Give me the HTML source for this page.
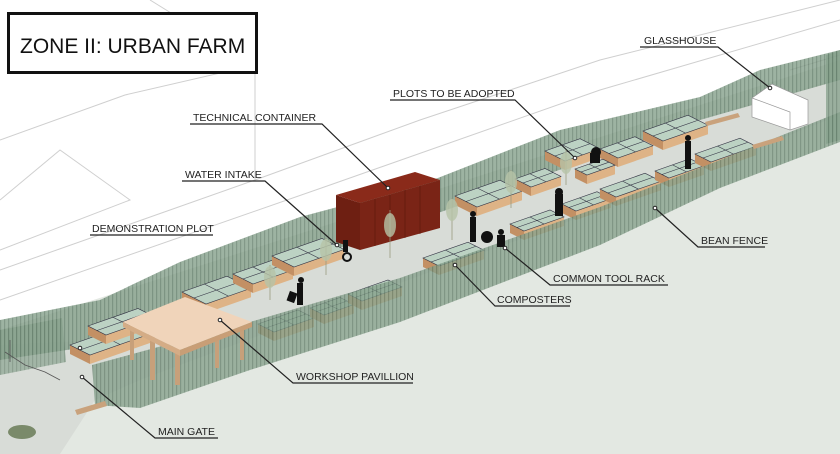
<!DOCTYPE html>
<html><head><meta charset="utf-8"><style>
html,body{margin:0;padding:0;background:#fff;width:840px;height:454px;overflow:hidden}
svg{display:block}
text{font-family:"Liberation Sans",sans-serif;font-size:10.5px;fill:#222}
</style></head><body>
<svg id="s" width="840" height="454" viewBox="0 0 840 454" xmlns="http://www.w3.org/2000/svg">
<defs>
<pattern id="fp" width="4" height="30" patternUnits="userSpaceOnUse">
<rect width="4" height="30" fill="#85a08b"/>
<rect width="1.2" height="30" fill="#647f6b"/>
</pattern>
</defs>
<!-- building outlines -->
<g stroke="#cfcfcf" stroke-width="1" fill="none">
<polyline points="0,140 125,95 255,65 255,180 0,270"/>
<polyline points="0,200 60,150 130,200 0,250"/>
<polyline points="150,0 255,65"/>
<polyline points="0,300 330,185 600,90 840,20"/>
<polyline points="255,180 420,120 600,60 840,0"/>
<polyline points="790,70 840,55"/>
</g>
<!-- ground -->
<polygon points="0,330 840,60 840,454 0,454" fill="#e3e8e2"/>
<!-- gravel strip -->
<polygon points="0,345 100,340 300,258 700,118 840,78 840,115 600,210 400,283 140,380 95,400 60,454 0,454" fill="#d8dcd7"/>
<!-- top fence -->
<polygon points="0,320 50,310 100,300 180,262 300,217 420,185 560,130 700,97 760,70 840,50 840,80 700,120 300,262 100,345 0,360" fill="url(#fp)" opacity="0.8"/>
<!-- right end fence -->
<polygon points="826,55 840,50 840,140 826,144" fill="url(#fp)" opacity="0.75"/>
<!-- left gate fence -->
<polygon points="0,330 62,318 66,362 0,375" fill="url(#fp)" opacity="0.65"/>
<g stroke="#555" stroke-width="0.8" fill="none"><polyline points="5,352 25,365 45,372 60,380"/><polyline points="10,340 10,362 M25,345 25,367 M40,350 40,373"/></g>
<g id="beds"></g>
<!-- bottom fence -->
<polygon points="92,365 250,322 400,278 600,207 720,160 840,112 840,142 720,188 600,245 400,322 250,370 140,408 95,405" fill="url(#fp)" opacity="0.78"/>
<!-- container -->
<polygon points="336,195 415,172 440,180 360,203" fill="#8a2a1a"/>
<polygon points="336,195 360,203 360,250 336,242" fill="#6e1f12"/>
<polygon points="360,203 440,180 440,228 360,250" fill="#7a2416"/>
<g stroke="#5a180d" stroke-width="0.6">
<line x1="375" y1="199" x2="375" y2="246"/><line x1="390" y1="195" x2="390" y2="242"/><line x1="405" y1="190" x2="405" y2="238"/><line x1="420" y1="186" x2="420" y2="234"/>
</g>
<!-- pavilion -->
<g fill="#c7a07a">
<rect x="130" y="325" width="4" height="35"/><rect x="150" y="335" width="5" height="45"/><rect x="175" y="345" width="5" height="40"/><rect x="240" y="328" width="4" height="32"/><rect x="215" y="338" width="4" height="30"/>
</g>
<polygon points="123,322 185,297 252,322 180,350" fill="#f0d4ba"/>
<polygon points="123,322 180,350 180,356 123,327" fill="#d4ac86"/>
<polygon points="180,350 252,322 252,327 180,356" fill="#c89e76"/>
<!-- glasshouse -->
<polygon points="752,98 772,84 808,100 808,124 790,130 752,117" fill="#fff" stroke="#999" stroke-width="0.7"/>
<polyline points="752,98 790,112 790,130 M790,112 808,100" stroke="#999" stroke-width="0.7" fill="none"/>
<!-- people -->
<g fill="#111">
<circle cx="301" cy="280" r="3"/><rect x="297" y="283" width="6" height="22"/><rect x="288" y="292" width="8" height="10" transform="rotate(20 292 297)"/>
<circle cx="347" cy="257" r="4" fill="none" stroke="#111" stroke-width="2"/><rect x="343" y="240" width="5" height="12"/>
<circle cx="473" cy="214" r="3"/><rect x="470" y="217" width="6" height="25"/>
<circle cx="487" cy="237" r="6"/><circle cx="501" cy="232" r="3"/><rect x="497" y="235" width="8" height="12"/>
<circle cx="559" cy="192" r="4"/><rect x="555" y="194" width="8" height="22"/>
<circle cx="596" cy="152" r="5"/><rect x="590" y="153" width="10" height="10"/>
<circle cx="688" cy="138" r="3"/><rect x="685" y="141" width="6" height="28"/>
</g>
<!-- trees -->
<g stroke="#9a9a80" stroke-width="0.8">
<line x1="270" y1="265" x2="270" y2="300"/><line x1="326" y1="238" x2="326" y2="275"/><line x1="390" y1="210" x2="390" y2="258"/>
<line x1="452" y1="198" x2="452" y2="240"/><line x1="511" y1="170" x2="511" y2="208"/><line x1="566" y1="150" x2="566" y2="185"/>
</g>
<g fill="#b7c4a8" opacity="0.8">
<ellipse cx="270" cy="277" rx="6" ry="11"/><ellipse cx="326" cy="250" rx="6" ry="11"/><ellipse cx="390" cy="225" rx="6" ry="12"/>
<ellipse cx="452" cy="210" rx="6" ry="11"/><ellipse cx="511" cy="182" rx="6" ry="11"/><ellipse cx="566" cy="163" rx="6" ry="11"/>
</g>
<ellipse cx="22" cy="432" rx="14" ry="7" fill="#7a8a6a"/>
<!-- benches -->
<g fill="#c9a27c"><polygon points="705,122 738,113 740,117 707,126"/><polygon points="752,145 782,136 784,140 754,149"/><polygon points="75,410 105,401 107,406 77,415"/></g>
<!-- title -->
<rect x="8.5" y="13.5" width="248" height="59" fill="#fff" stroke="#111" stroke-width="3"/>
<text x="20" y="53" style="font-size:21px;fill:#111">ZONE II: URBAN FARM</text>
<!-- labels -->
<g stroke="#222" stroke-width="1.2" fill="none">
<polyline points="190,124 322,124 388,188"/>
<polyline points="390,100 515,100 575,158"/>
<polyline points="640,47 718,47 770,88"/>
<polyline points="182,181 265,181 337,245"/>
<polyline points="90,235 213,235 M90,235 80,348"/>
<polyline points="765,247 698,247 655,208"/>
<polyline points="668,285 550,285 505,248"/>
<polyline points="570,306 495,306 455,265"/>
<polyline points="413,383 293,383 220,320"/>
<polyline points="218,438 155,438 82,377"/>
</g>
<g fill="#fff" stroke="#222" stroke-width="1">
<circle cx="388" cy="188" r="1.8"/><circle cx="575" cy="158" r="1.8"/><circle cx="770" cy="88" r="1.8"/><circle cx="337" cy="245" r="1.8"/><circle cx="80" cy="348" r="1.8"/><circle cx="655" cy="208" r="1.8"/><circle cx="505" cy="248" r="1.8"/><circle cx="455" cy="265" r="1.8"/><circle cx="220" cy="320" r="1.8"/><circle cx="82" cy="377" r="1.8"/>
</g>
<text x="193" y="121">TECHNICAL CONTAINER</text>
<text x="393" y="97">PLOTS TO BE ADOPTED</text>
<text x="644" y="44">GLASSHOUSE</text>
<text x="185" y="178">WATER INTAKE</text>
<text x="92" y="232">DEMONSTRATION PLOT</text>
<text x="701" y="244">BEAN FENCE</text>
<text x="553" y="282">COMMON TOOL RACK</text>
<text x="497" y="303">COMPOSTERS</text>
<text x="296" y="380">WORKSHOP PAVILLION</text>
<text x="158" y="435">MAIN GATE</text>
</svg>
<script>
var beds=[[70,345,60,20],[88,326,50,18],[182,292,45,24],[233,274,40,20],[272,256,50,22],[258,324,40,16],[310,308,30,14],[348,294,40,14],[423,258,45,16],[455,196,45,22],[510,224,40,14],[515,179,30,16],[545,151,35,20],[562,204,35,14],[600,149,35,18],[600,189,45,16],[575,169,28,12],[643,131,45,20],[655,171,35,14],[695,154,45,16]];
var g=document.getElementById('beds'),h='';
beds.forEach(function(b){var x=b[0],y=b[1],a=b[2],w=b[3];
var p0=[x,y],p1=[x+a,y-a*0.35],p2=[x+a+w,y-a*0.35+w*0.5],p3=[x+w,y+w*0.5];
function s(p){return p[0]+','+p[1]}
h+='<polygon points="'+s(p0)+' '+s(p3)+' '+p3[0]+','+(p3[1]+9)+' '+x+','+(y+9)+'" fill="#c39064"/>';
h+='<polygon points="'+s(p3)+' '+s(p2)+' '+p2[0]+','+(p2[1]+9)+' '+p3[0]+','+(p3[1]+9)+'" fill="#deb386"/>';
h+='<polygon points="'+s(p0)+' '+s(p1)+' '+s(p2)+' '+s(p3)+'" fill="#bcd2c3" stroke="#334" stroke-width="0.6"/>';
var m0=[(p0[0]+p1[0])/2,(p0[1]+p1[1])/2],m1=[(p3[0]+p2[0])/2,(p3[1]+p2[1])/2];
var n0=[(p0[0]+p3[0])/2,(p0[1]+p3[1])/2],n1=[(p1[0]+p2[0])/2,(p1[1]+p2[1])/2];
h+='<line x1="'+m0[0]+'" y1="'+m0[1]+'" x2="'+m1[0]+'" y2="'+m1[1]+'" stroke="#334" stroke-width="0.6"/>';
h+='<line x1="'+n0[0]+'" y1="'+n0[1]+'" x2="'+n1[0]+'" y2="'+n1[1]+'" stroke="#334" stroke-width="0.6"/>';});
g.innerHTML=h;
</script>
</body></html>
